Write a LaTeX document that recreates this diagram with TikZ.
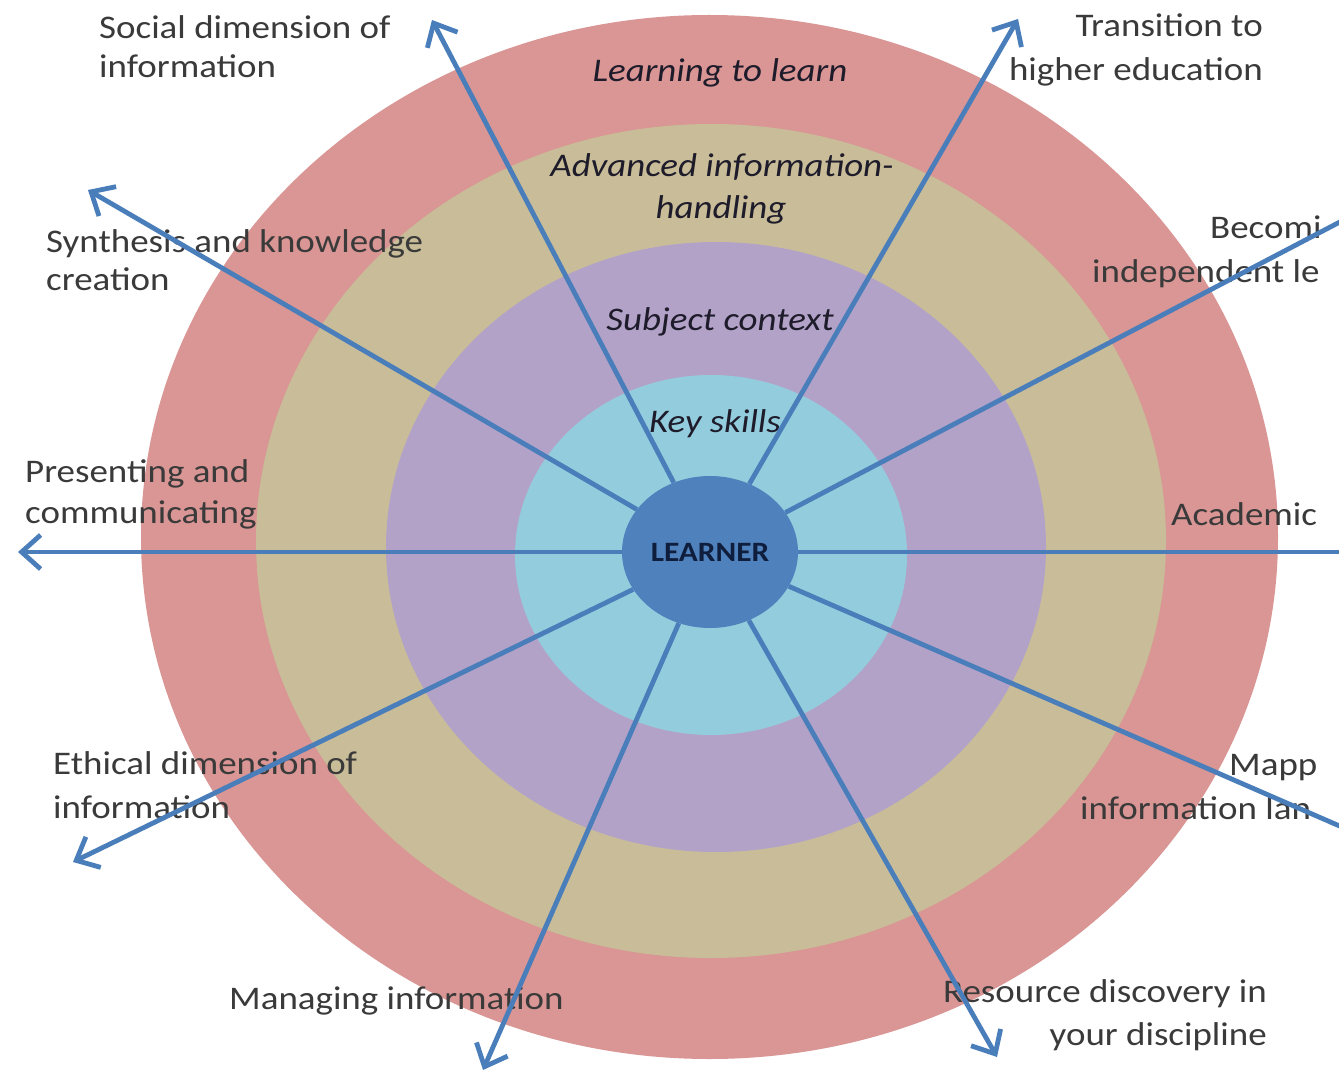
\documentclass[tikz,border=0pt]{standalone}
\usepackage{fontspec}
\setmainfont{Carlito}[FakeStretch=1.12]
\usetikzlibrary{shapes.geometric,arrows.meta}
\definecolor{ringred}{HTML}{D99694}
\definecolor{ringtan}{HTML}{C8BD98}
\definecolor{ringpurple}{HTML}{B3A2C8}
\definecolor{ringcyan}{HTML}{93CDDD}
\definecolor{learnerblue}{HTML}{4F81BD}
\definecolor{arrowblue}{HTML}{4A7EBB}
\definecolor{labelgrey}{HTML}{3A3A3A}
\definecolor{ringtext}{HTML}{1E1B2A}
\definecolor{navytext}{HTML}{0F1E3C}
\begin{document}
\begin{tikzpicture}[x=1pt,y=-1pt,
  lbl/.style={inner sep=0pt, text=labelgrey, font=\fontsize{33}{40}\selectfont},
  lblw/.style={lbl, anchor=base west},
  lble/.style={lbl, anchor=base east},
  ringlbl/.style={inner sep=0pt, anchor=base, text=ringtext, font=\fontsize{33}{40}\selectfont\itshape},
  spoke/.style={draw=arrowblue, line width=4.8pt, -{Straight Barb[length=19pt,width=34pt,line width=4.8pt]}}]
\useasboundingbox[fill=white] (0,0) rectangle (1339,1075);
% rings
\fill[ringred] (709.5,537) ellipse [x radius=568.5, y radius=522];
\fill[ringtan] (711,541) ellipse [x radius=455, y radius=417];
\fill[ringpurple] (716,547) ellipse [x radius=330, y radius=305];
\fill[ringcyan] (711,555) ellipse [x radius=196, y radius=180];
% ring labels
\node[ringlbl] (l1) at (720,82) {Learning to learn};
\node[ringlbl] (l2a) at (722,177) {Advanced information-};
\node[ringlbl] (l2b) at (721,219) {handling};
\node[ringlbl] (l3) at (720,331) {Subject context};
\node[ringlbl] (l4) at (715,432) {Key skills};
% centre
\node[ellipse, fill=learnerblue, minimum width=176pt, minimum height=152pt, inner sep=0pt,
      text=navytext, font=\fontsize{28}{32}\selectfont\bfseries] (learner) at (710,552) {LEARNER};
% outer labels
\node[lblw] (soc1) at (99,39) {Social dimension of};
\node[lblw] (soc2) at (99,78) {information};
\node[lble] (tra1) at (1263,37) {Transition to};
\node[lble] (tra2) at (1263,81) {higher education};
\node[lblw] (bec1) at (1210,239) {Becomi};
\node[lblw] (bec2) at (1092,283) {independent le};
\node[lblw] (syn1) at (46,253) {Synthesis and knowledge};
\node[lblw] (syn2) at (46,291) {creation};
\node[lblw] (pre1) at (25,482) {Presenting and};
\node[lblw] (pre2) at (25,523) {communicating};
\node[lblw] (aca) at (1171,525) {Academic};
\node[lblw] (eth1) at (53,774) {Ethical dimension of};
\node[lblw] (eth2) at (53,818) {information};
\node[lblw] (map1) at (1229,775) {Mapp};
\node[lblw] (map2) at (1080,819) {information lan};
\node[lblw] (man) at (229,1009) {Managing information};
\node[lble] (res1) at (1267,1002) {Resource discovery in};
\node[lble] (res2) at (1267,1045) {your discipline};
% arrow ends
\coordinate (tSoc) at (432,20);
\coordinate (tTra) at (1018,19);
\coordinate (tBec) at (1420,180);
\coordinate (tAca) at (1420,552);
\coordinate (tMap) at (1420,861);
\coordinate (tRes) at (997,1057);
\coordinate (tMan) at (483,1070);
\coordinate (tEth) at (73,862);
\coordinate (tPre) at (18,552);
\coordinate (tSyn) at (88,190);
% spokes
\foreach \t in {tSoc,tTra,tBec,tAca,tMap,tRes,tMan,tEth,tPre,tSyn}
  \draw[spoke] (learner) -- (\t);
\end{tikzpicture}
\end{document}
